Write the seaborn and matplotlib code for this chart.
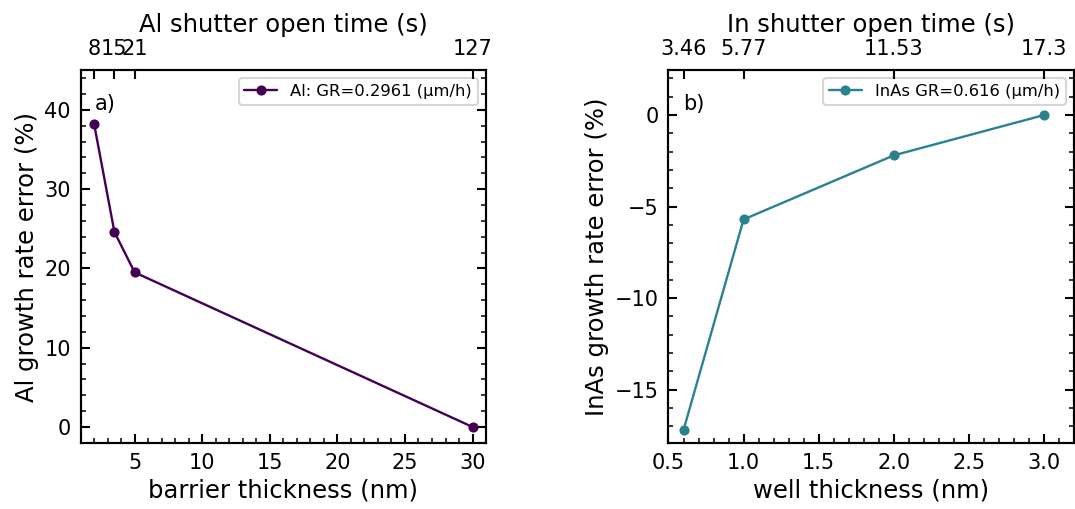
import matplotlib
matplotlib.use("Agg")
import matplotlib.pyplot as plt
import seaborn as sns
import pandas as pd
from matplotlib.ticker import AutoMinorLocator

# panel a) Al barrier
barrier_nm = [2.0, 3.5, 5.0, 30.0]
al_error = [38.2, 24.6, 19.5, 0.0]
al_times = ["8", "15", "21", "127"]

# panel b) InAs well
well_nm = [0.6, 1.0, 2.0, 3.0]
inas_error = [-17.2, -5.7, -2.2, 0.0]
in_times = ["3.46", "5.77", "11.53", "17.3"]

sns.set_theme(style="ticks", context="talk")
plt.rcParams["font.family"] = ["DejaVu Sans"]
plt.rcParams.update({
    "text.color": "black",
    "axes.labelcolor": "black",
    "xtick.color": "black",
    "ytick.color": "black",
    "axes.edgecolor": "black",
})

purple = "#440154"
teal = "#2a828f"

fig, axes = plt.subplots(1, 2, figsize=(10.75, 5.09), dpi=100)


def style_axis(ax):
    ax.xaxis.set_minor_locator(AutoMinorLocator())
    ax.yaxis.set_minor_locator(AutoMinorLocator())
    ax.tick_params(which="both", direction="in", top=False, right=True, labelsize=15)
    ax.tick_params(which="major", length=6.5, width=1.5, pad=7)
    ax.tick_params(which="minor", length=3.6, width=1.1)
    for s in ax.spines.values():
        s.set_linewidth(1.5)


def panel(ax, x, y, times, color, label, xlabel, ylabel, toplabel, tag, xlim, ylim):
    df = pd.DataFrame({"x": x, "y": y})
    sns.lineplot(data=df, x="x", y="y", ax=ax, color=color, marker="o",
                 markersize=7.3, markeredgewidth=0, linewidth=1.7, label=label)
    ax.set_xlim(*xlim)
    ax.set_ylim(*ylim)
    ax.set_xlabel(xlabel, fontsize=17.5)
    ax.set_ylabel(ylabel, fontsize=17.5)
    style_axis(ax)
    ax.text(0.035, 0.935, tag, transform=ax.transAxes, fontsize=15, va="top")
    ax.legend(loc="upper right", fontsize=11.8, handlelength=2, borderpad=0.35,
              fancybox=True, framealpha=0.8)
    top = ax.twiny()
    top.set_xlim(ax.get_xlim())
    top.set_xticks(x)
    top.set_xticklabels(times)
    top.tick_params(direction="in", length=6.5, width=1.5, labelsize=15, pad=8)
    top.set_xlabel(toplabel, fontsize=17.5, labelpad=5)
    for s in top.spines.values():
        s.set_linewidth(1.5)


panel(axes[0], barrier_nm, al_error, al_times, purple, "Al: GR=0.2961 (µm/h)",
      "barrier thickness (nm)", "Al growth rate error (%)", "Al shutter open time (s)",
      "a)", (1.0, 31.0), (-2.0, 45.0))
axes[0].set_xticks([5, 10, 15, 20, 25, 30])
axes[0].set_yticks([0, 10, 20, 30, 40])

panel(axes[1], well_nm, inas_error, in_times, teal, "InAs GR=0.616 (µm/h)",
      "well thickness (nm)", "InAs growth rate error (%)", "In shutter open time (s)",
      "b)", (0.5, 3.2), (-17.9, 2.45))
axes[1].set_xticks([0.5, 1.0, 1.5, 2.0, 2.5, 3.0])
axes[1].set_yticks([-15, -10, -5, 0])

fig.subplots_adjust(left=0.075, right=0.999, bottom=0.13, top=0.862, wspace=0.45)
fig.savefig("out.png", dpi=100)
